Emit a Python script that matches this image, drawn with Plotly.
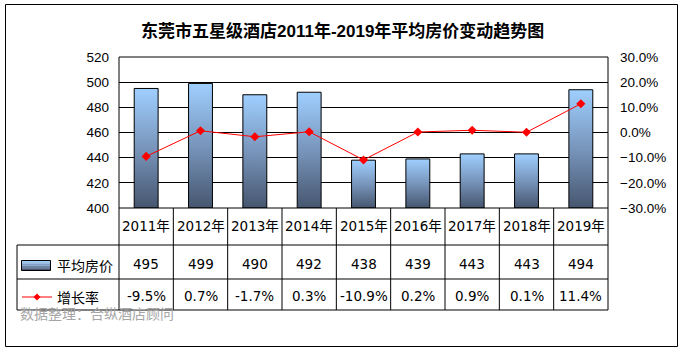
import plotly.graph_objects as go

# ---------------- data ----------------
years = ["2011年", "2012年", "2013年", "2014年", "2015年", "2016年", "2017年", "2018年", "2019年"]
avg_price = [495, 499, 490, 492, 438, 439, 443, 443, 494]
growth_pct = [-9.5, 0.7, -1.7, 0.3, -10.9, 0.2, 0.9, 0.1, 11.4]

title_text = "东莞市五星级酒店2011年-2019年平均房价变动趋势图"
series_bar = "平均房价"
series_line = "增长率"
source_text = "数据整理：合纵酒店顾问"

# ---------------- layout constants ----------------
W, H = 683, 352
L, R, T, B = 119, 75, 57, 144
PW, PH = W - L - R, H - T - B
Y_MIN, Y_MAX = 400, 520
BAR_HALF = 0.22


def px(x):
    return (x - L) / PW


def py(y):
    return (H - B - y) / PH


TABLE_FONT = "DejaVu Sans, Noto Sans CJK SC, sans-serif"
AXIS_FONT = "Liberation Sans, Arial, sans-serif"

fig = go.Figure()

# bars drawn as gradient-filled shapes through the data axes
cs = [[0, "#46566f"], [0.5, "#7895bb"], [1, "#9fcfff"]]
for i, v in enumerate(avg_price):
    fig.add_trace(go.Scatter(
        x=[i - BAR_HALF, i + BAR_HALF, i + BAR_HALF, i - BAR_HALF, i - BAR_HALF],
        y=[Y_MIN, Y_MIN, v, v, Y_MIN],
        mode="lines", fill="toself",
        fillgradient=dict(type="vertical", colorscale=cs),
        line=dict(color="black", width=1),
        showlegend=False, hoverinfo="skip",
    ))

fig.add_trace(go.Scatter(
    x=list(range(len(years))), y=growth_pct, yaxis="y2",
    mode="lines+markers",
    line=dict(color="#ff0000", width=1),
    marker=dict(symbol="diamond", size=7, color="#ff0000"),
    showlegend=False,
))

shapes = []
line = dict(color="black", width=1)
# outer frame
shapes.append(dict(type="rect", xref="paper", yref="paper",
                   x0=px(5.5), x1=px(677.5), y0=py(346.5), y1=py(4.5), line=line))
# plot top
shapes.append(dict(type="line", xref="paper", yref="paper", x0=0, x1=1, y0=1, y1=1, line=line))
# plot bottom / table top
shapes.append(dict(type="line", xref="paper", yref="paper", x0=0, x1=1, y0=0, y1=0, line=line))
# verticals left/right of plot down through table
for xx in (0, 1):
    shapes.append(dict(type="line", xref="paper", yref="paper", x0=xx, x1=xx,
                       y0=py(310), y1=1, line=line))
# column separators
for k in range(1, len(years)):
    shapes.append(dict(type="line", xref="x", yref="paper", x0=k - 0.5, x1=k - 0.5,
                       y0=py(310), y1=0, line=line))
# table horizontals
for yy in (245, 279, 310):
    shapes.append(dict(type="line", xref="paper", yref="paper", x0=px(17), x1=1,
                       y0=py(yy), y1=py(yy), line=line))
# legend column left border
shapes.append(dict(type="line", xref="paper", yref="paper", x0=px(17), x1=px(17),
                   y0=py(310), y1=py(245), line=line))

# legend symbol for bars (vertical gradient strips)
strip_cols = ["#9fcfff", "#8fb6e0", "#7f9fc6", "#6a86ab", "#566c8d", "#46566f"]
y_top, y_bot = 260.5, 270.5
n = len(strip_cols)
for j, c in enumerate(strip_cols):
    a = y_top + (y_bot - y_top) * j / n
    b = y_top + (y_bot - y_top) * (j + 1) / n
    shapes.append(dict(type="rect", xref="paper", yref="paper", x0=px(21.5), x1=px(50.5),
                       y0=py(b), y1=py(a), fillcolor=c, line=dict(width=0)))
shapes.append(dict(type="rect", xref="paper", yref="paper", x0=px(21.5), x1=px(50.5),
                   y0=py(y_bot), y1=py(y_top), line=dict(color="black", width=1)))
# legend symbol for line
shapes.append(dict(type="line", xref="paper", yref="paper", x0=px(22), x1=px(52),
                   y0=py(297), y1=py(297), line=dict(color="#ff0000", width=1)))
shapes.append(dict(type="path", xref="paper", yref="paper",
                   path=f"M {px(37)} {py(293.5)} L {px(40.5)} {py(297)} L {px(37)} {py(300.5)} L {px(33.5)} {py(297)} Z",
                   fillcolor="#ff0000", line=dict(color="#ff0000", width=0)))


def A(text, x, y, xref="paper", xanchor="center", size=13.5, family=TABLE_FONT, color="black"):
    return dict(text=text, xref=xref, yref="paper", x=x, y=y, xanchor=xanchor, yanchor="middle",
                showarrow=False, font=dict(family=family, size=size, color=color))


ann = []
ann.append(A(f"<b>{title_text}</b>", px(342), py(30.5), size=17,
             family="Liberation Sans, Noto Sans CJK SC"))
for i, yr in enumerate(years):
    ann.append(A(yr, i, py(225.5), xref="x"))
    ann.append(A(str(avg_price[i]), i, py(263.5), xref="x"))
    ann.append(A(f"{growth_pct[i]:.1f}%", i, py(296), xref="x"))
ann.append(A(series_bar, px(55), py(264.5), xanchor="left", size=14, family="Noto Sans CJK SC"))
ann.append(A(series_line, px(55), py(296.5), xanchor="left", size=14, family="Noto Sans CJK SC"))
ann.append(A(source_text, px(18), py(312.5), xanchor="left", size=14, family="Noto Sans CJK SC",
             color="#a6a6a6"))

fig.update_layout(
    width=W, height=H,
    margin=dict(l=L, r=R, t=T, b=B, pad=0),
    paper_bgcolor="white", plot_bgcolor="white",
    showlegend=False,
    xaxis=dict(range=[-0.5, len(years) - 0.5], showticklabels=False, showgrid=False,
               zeroline=False, ticks="", fixedrange=True),
    yaxis=dict(range=[Y_MIN, Y_MAX], dtick=20, showgrid=True, gridcolor="black", gridwidth=1,
               zeroline=False, showline=False, ticks="", ticklabelstandoff=9,
               tickfont=dict(family=AXIS_FONT, size=13.5, color="black")),
    yaxis2=dict(range=[-30, 30], dtick=10, overlaying="y", side="right", showgrid=False,
                zeroline=False, ticks="", tickformat=".1f", ticksuffix="%", ticklabelstandoff=11,
                tickfont=dict(family=AXIS_FONT, size=13.5, color="black")),
    shapes=shapes,
    annotations=ann,
)

fig.write_html("out.html")
